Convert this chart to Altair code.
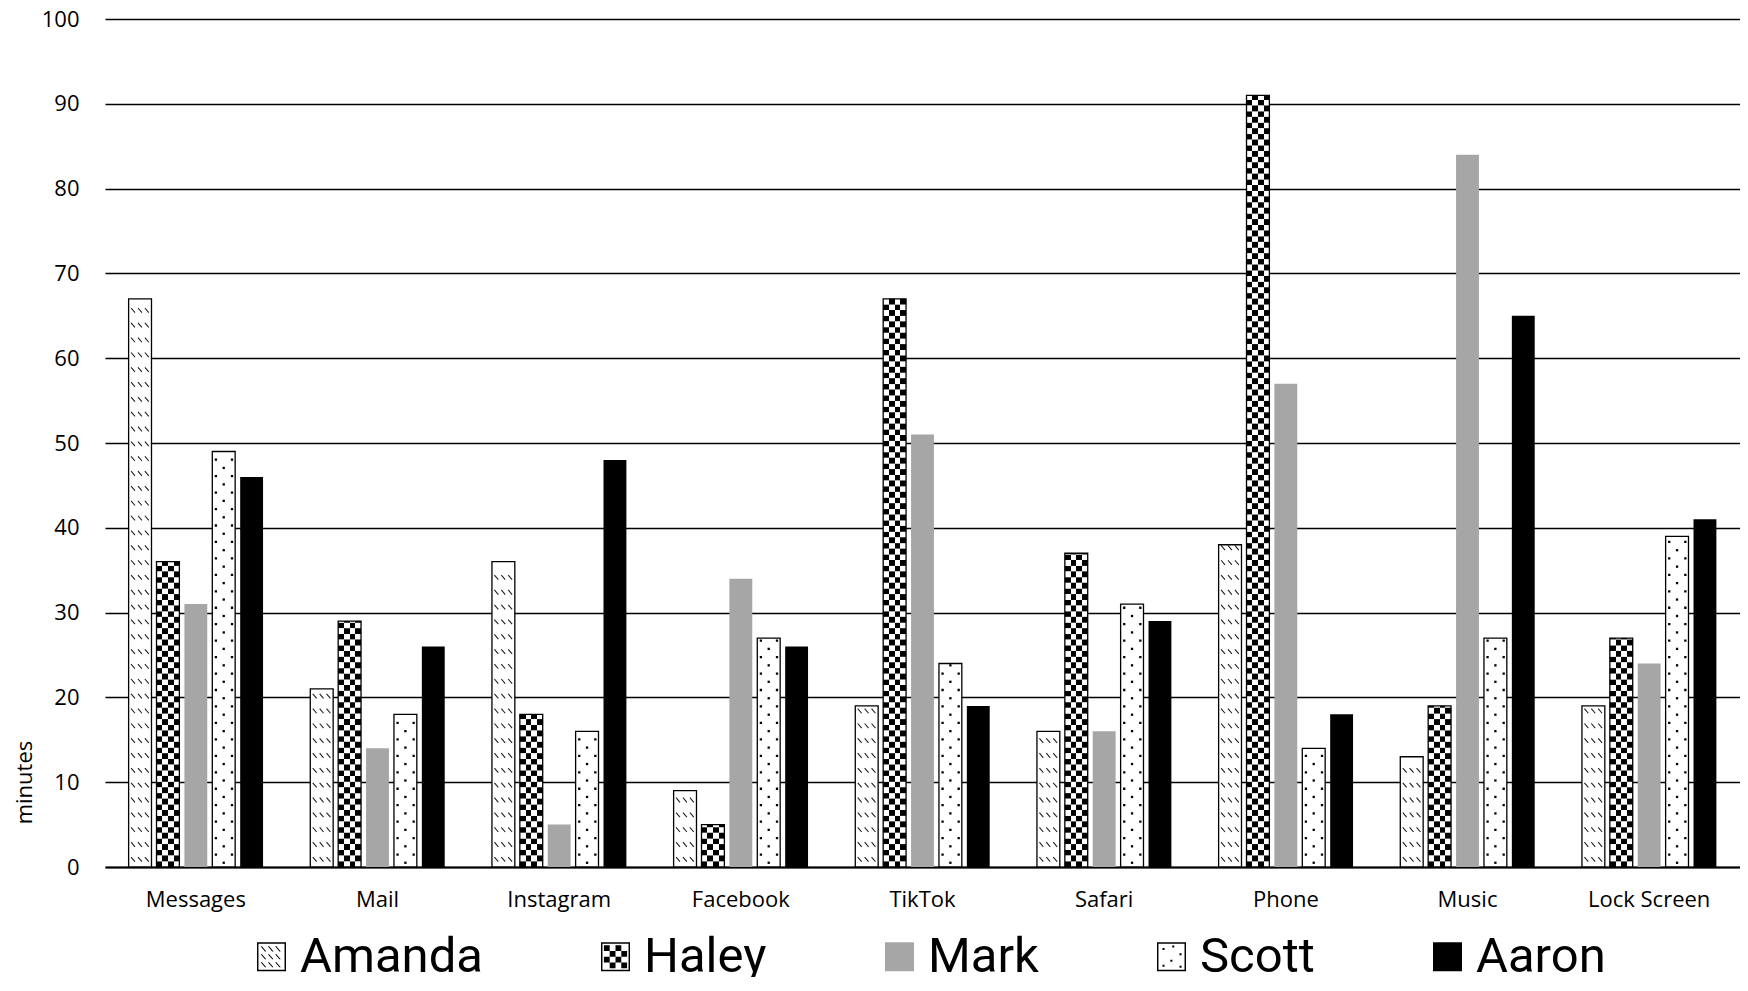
import altair as alt
import pandas as pd

# ---------------- data ----------------
categories = ["Messages", "Mail", "Instagram", "Facebook", "TikTok",
              "Safari", "Phone", "Music", "Lock Screen"]
people = ["Amanda", "Haley", "Mark", "Scott", "Aaron"]
amanda = [67, 21, 36, 9, 19, 16, 38, 13, 19]
haley = [36, 29, 18, 5, 67, 37, 91, 19, 27]
mark = [31, 14, 5, 34, 51, 16, 57, 84, 24]
scott = [49, 18, 16, 27, 24, 31, 14, 27, 39]
aaron = [46, 26, 48, 26, 19, 29, 18, 65, 41]
y_ticks = [0, 10, 20, 30, 40, 50, 60, 70, 80, 90, 100]

series = {"Amanda": amanda, "Haley": haley, "Mark": mark,
          "Scott": scott, "Aaron": aaron}
bars = pd.DataFrame([{"app": c, "person": p, "minutes": v}
                     for p in people for c, v in zip(categories, series[p])])

# pattern tables built from the values (rows of texture inside each bar)
CHECK = 0.67
checker = []
for c, v in zip(categories, haley):
    i = 0
    while i * CHECK < v - 1e-9:
        checker.append({"app": c, "person": "Haley", "y0": i * CHECK,
                        "y1": min((i + 1) * CHECK + 0.02, v), "parity": i % 2})
        i += 1
checker = pd.DataFrame(checker)

HATCH = 1.75
hatch = []
for c, v in zip(categories, amanda):
    k = 0
    while 0.9 + k * HATCH + 0.3 <= v:
        hatch.append({"app": c, "person": "Amanda", "yc": 0.9 + k * HATCH})
        k += 1
hatch = pd.DataFrame(hatch)

DOT = 0.97
dots = []
for c, v in zip(categories, scott):
    k = 0
    while 0.5 + k * DOT + 0.2 <= v:
        dots.append({"app": c, "person": "Scott", "yc": 0.5 + k * DOT, "parity": k % 2})
        k += 1
dots = pd.DataFrame(dots)

# ---------------- styles ----------------
FONT = "Open Sans"
LEG_FONT = "Roboto"
PLOT_W, PLOT_H = 1635, 848
BAR_SIZE = 529  # (bar width px)^2 for custom symbol rows


def stripes(first, second):
    return {"gradient": "linear", "x1": 0, "y1": 0, "x2": 1, "y2": 0,
            "stops": [{"offset": 0, "color": first}, {"offset": 0.25, "color": first},
                      {"offset": 0.25, "color": second}, {"offset": 0.5, "color": second},
                      {"offset": 0.5, "color": first}, {"offset": 0.75, "color": first},
                      {"offset": 0.75, "color": second}, {"offset": 1, "color": second}]}


hatch_path = "M-0.78,-0.2L-0.44,0.2M-0.18,-0.2L0.16,0.2M0.42,-0.2L0.76,0.2"
dot_center = "M-0.1,-0.1H0.1V0.1H-0.1Z"
dot_sides = "M-0.78,-0.1H-0.58V0.1H-0.78ZM0.62,-0.1H0.82V0.1H0.62Z"

frame = "M-1,-1H1V1H-1ZM-0.9,-0.9V0.9H0.9V-0.9Z"
leg_haley = frame + "".join(
    f"M{-0.8 + 0.4 * i:.2f},{-0.8 + 0.4 * j:.2f}h0.4v0.4h-0.4Z"
    for i in range(4) for j in range(4) if (i + j) % 2 == 0)
leg_amanda = frame + "".join(
    f"M{x:.2f},{y:.2f}L{x + 0.09:.2f},{y:.2f}L{x + 0.39:.2f},{y + 0.35:.2f}L{x + 0.3:.2f},{y + 0.35:.2f}Z"
    for y in (-0.72, -0.17, 0.38) for x in (-0.75, -0.25, 0.25))
leg_scott = frame + "".join(
    f"M{x:.2f},{y:.2f}h0.14v0.14h-0.14Z"
    for x, y in ((-0.62, -0.6), (0.05, -0.78), (0.55, -0.25), (-0.08, 0.2), (-0.62, 0.55), (0.55, 0.62)))

x_scale = alt.Scale(domain=categories, paddingInner=0.26, paddingOuter=0.13)
xo_scale = alt.Scale(domain=people, paddingInner=0.18, paddingOuter=0)
y_scale = alt.Scale(domain=[0, 100], nice=False)

x_axis = alt.Axis(labelAngle=0, ticks=False, tickSize=0, labelPadding=22,
                  domainColor="black", domainWidth=2.2, grid=False,
                  labelFont=FONT, labelFontSize=22, labelColor="black")
y_axis = alt.Axis(values=y_ticks, domain=False, ticks=False, tickSize=0,
                  labelPadding=26, gridColor="black", gridWidth=1.3, grid=True,
                  labelFont=FONT, labelFontSize=22, labelColor="black",
                  titleFont=FONT, titleFontSize=22, titleFontWeight="normal",
                  titleColor="black", titleAngle=270, titleX=-81, titleY=763,
                  titleAlign="center", titleBaseline="middle")


def xe():
    return alt.X("app:N", scale=x_scale, title=None, axis=x_axis)


def xoe():
    return alt.XOffset("person:N", scale=xo_scale)


def ye(field):
    return alt.Y(field, scale=y_scale, title="minutes", axis=y_axis)


def bar_layer(names, color):
    flt = " || ".join(f"datum.person == '{n}'" for n in names)
    return alt.Chart(bars).transform_filter(flt).mark_bar(
        fill=color, strokeWidth=0).encode(x=xe(), xOffset=xoe(), y=ye("minutes:Q"))


white_bars = bar_layer(["Amanda", "Haley", "Scott"], "white")
mark_bars = bar_layer(["Mark"], "#a6a6a6")
aaron_bars = bar_layer(["Aaron"], "black")

check_even = alt.Chart(checker).transform_filter("datum.parity == 0").mark_bar(
    fill=stripes("black", "white"), strokeWidth=0).encode(
    x=xe(), xOffset=xoe(), y=ye("y0:Q"), y2="y1:Q")
check_odd = alt.Chart(checker).transform_filter("datum.parity == 1").mark_bar(
    fill=stripes("white", "black"), strokeWidth=0).encode(
    x=xe(), xOffset=xoe(), y=ye("y0:Q"), y2="y1:Q")

hatch_layer = alt.Chart(hatch).mark_point(
    shape=hatch_path, size=BAR_SIZE, filled=False, stroke="#222222",
    strokeWidth=1.1, opacity=1).encode(x=xe(), xOffset=xoe(), y=ye("yc:Q"))

dots_a = alt.Chart(dots).transform_filter("datum.parity == 0").mark_point(
    shape=dot_center, size=BAR_SIZE, filled=True, fill="black", strokeWidth=0, opacity=1).encode(
    x=xe(), xOffset=xoe(), y=ye("yc:Q"))
dots_b = alt.Chart(dots).transform_filter("datum.parity == 1").mark_point(
    shape=dot_sides, size=BAR_SIZE, filled=True, fill="black", strokeWidth=0, opacity=1).encode(
    x=xe(), xOffset=xoe(), y=ye("yc:Q"))

outline = alt.Chart(bars).transform_filter(
    "datum.person == 'Amanda' || datum.person == 'Haley' || datum.person == 'Scott'"
).mark_bar(fillOpacity=0, stroke="black", strokeWidth=1.3).encode(
    x=xe(), xOffset=xoe(), y=ye("minutes:Q"))

leg = alt.Legend(title=None, orient="none", legendX=142, legendY=913, direction="horizontal")
legend_layer = alt.Chart(bars).transform_filter("false").mark_point(
    filled=True, opacity=1, strokeWidth=0, size=841).encode(
    x=xe(), xOffset=xoe(), y=ye("minutes:Q"),
    color=alt.Color("person:N", scale=alt.Scale(
        domain=people, range=["black", "black", "#a6a6a6", "black", "black"]), legend=leg),
    shape=alt.Shape("person:N", scale=alt.Scale(
        domain=people, range=[leg_amanda, leg_haley, "square", leg_scott, "square"]), legend=leg),
)

chart = alt.layer(white_bars, mark_bars, aaron_bars, check_even, check_odd, hatch_layer,
                  dots_a, dots_b, outline, legend_layer).properties(
    width=PLOT_W, height=PLOT_H,
    autosize=alt.AutoSizeParams(type="none"),
    padding={"left": 97, "top": 11, "right": 0, "bottom": 110},
    background="white",
).configure_view(strokeWidth=0).configure_legend(
    symbolSize=841, symbolStrokeWidth=0, symbolOpacity=1, labelFont=LEG_FONT,
    labelFontSize=49, labelColor="black", labelOffset=4, labelLimit=400,
    columnPadding=108, padding=0,
)

chart.save("out.html", embed_options={"renderer": "svg", "actions": False})
